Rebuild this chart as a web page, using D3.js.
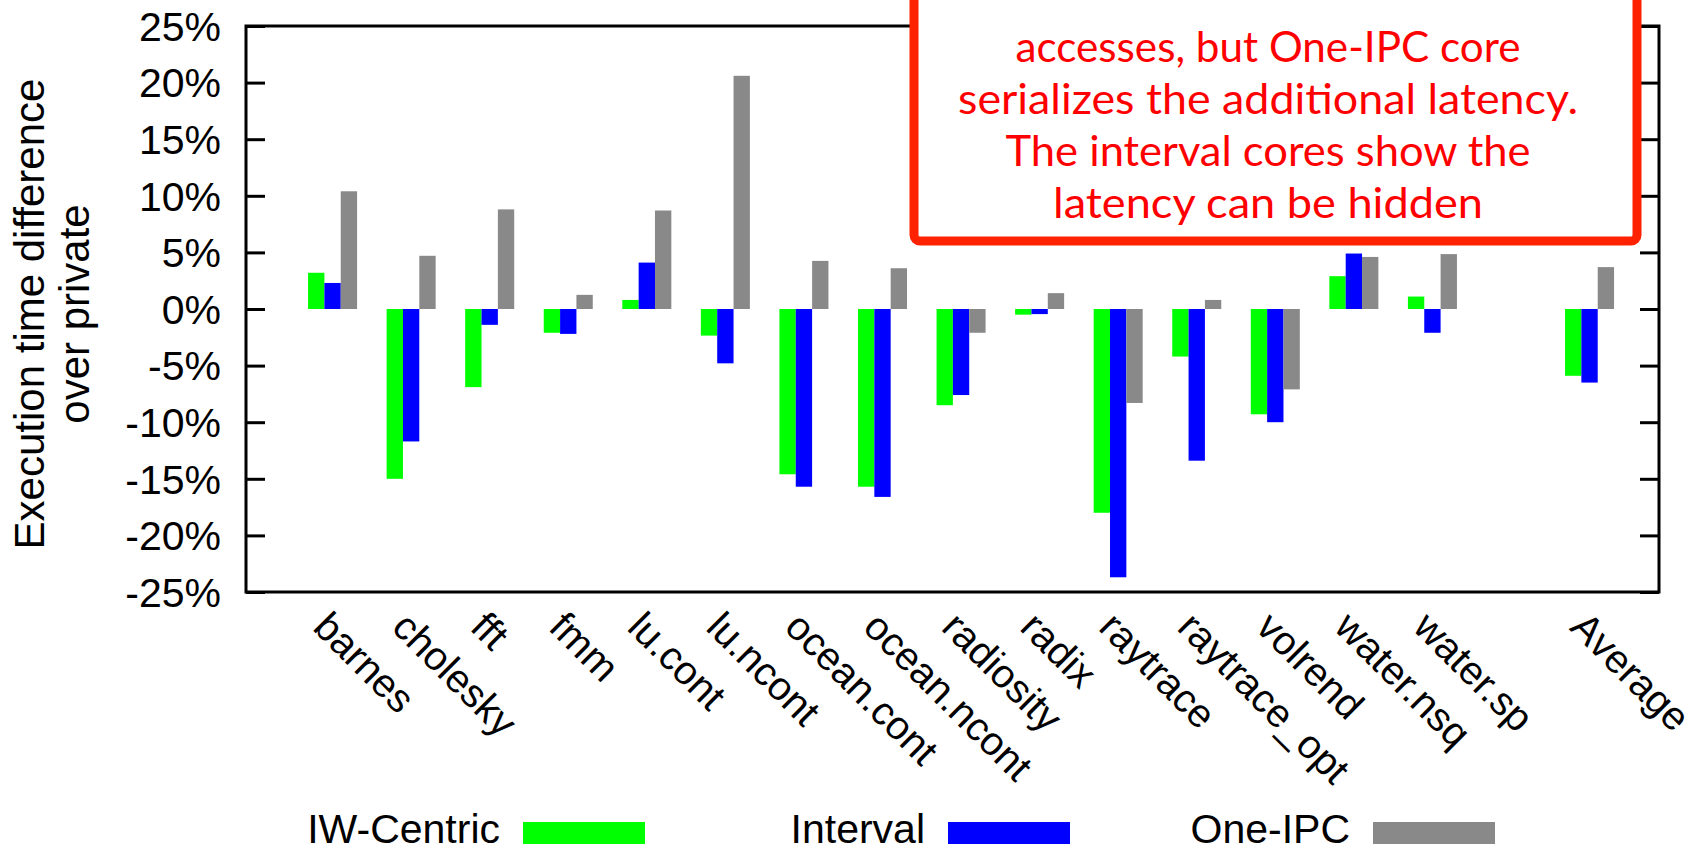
<!DOCTYPE html>
<html>
  <head>
    <title>Execution time difference over private</title>
    <style>
      body { margin: 0; background: #fff; }
      text { font-family: 'Liberation Sans', Arial, sans-serif; fill: #000; }
    </style>
  </head>
  <body>
    <script src="https://cdnjs.cloudflare.com/ajax/libs/d3/7.8.5/d3.min.js"></script>
    <script>
      // benchmarks ('' is the empty slot before Average)
      let categories = ['barnes', 'cholesky', 'fft', 'fmm', 'lu.cont', 'lu.ncont', 'ocean.cont',
                        'ocean.ncont', 'radiosity', 'radix', 'raytrace', 'raytrace_opt', 'volrend',
                        'water.nsq', 'water.sp', '', 'Average'];

      let seriesNames = ['IW-Centric', 'Interval', 'One-IPC'];
      let seriesColors = ['#00ff00', '#0000ff', '#898989'];

      // percent
      let iwCentric = [3.2, -15.0, -6.9, -2.1, 0.8, -2.35, -14.6, -15.7, -8.5, -0.5, -18.0, -4.2, -9.3, 2.9, 1.1, null, -5.9];
      let interval  = [2.3, -11.7, -1.4, -2.2, 4.1, -4.8, -15.7, -16.6, -7.6, -0.45, -23.7, -13.4, -10.0, 4.9, -2.1, null, -6.5];
      let oneIpc    = [10.4, 4.7, 8.8, 1.25, 8.7, 20.6, 4.25, 3.6, -2.1, 1.4, -8.3, 0.8, -7.1, 4.6, 4.85, null, 3.7];

      let yTicks = [-25, -20, -15, -10, -5, 0, 5, 10, 15, 20, 25];

      let noteLines = ['accesses, but One-IPC core',
                       'serializes the additional latency.',
                       'The interval cores show the',
                       'latency can be hidden'];

      let values = [iwCentric, interval, oneIpc];

      let W = 1707, H = 854;
      let plotLeft = 246, plotRight = 1659, plotTop = 26, plotBottom = 592;

      let svg = d3.select('body')
                  .append('svg')
                  .attr('width', W)
                  .attr('height', H);

      let xScale = d3.scaleBand()
                     .domain(categories)
                     .range([plotLeft, plotRight])
                     .paddingInner(0.376)
                     .paddingOuter(0.681)
                     .align(0.58);

      let xInner = d3.scaleBand()
                     .domain(seriesNames)
                     .range([0, xScale.bandwidth()]);

      let yScale = d3.scaleLinear()
                     .domain([-25, 25])
                     .range([plotBottom, plotTop]);

      // bars
      seriesNames.forEach((name, s) => {
        svg.append('g')
           .selectAll('rect')
           .data(categories.map((c, i) => ({ c: c, v: values[s][i] })).filter(d => d.v !== null))
           .enter()
             .append('rect')
             .attr('x', d => xScale(d.c) + xInner(name))
             .attr('width', xInner.bandwidth())
             .attr('y', d => yScale(Math.max(0, d.v)))
             .attr('height', d => Math.abs(yScale(d.v) - yScale(0)))
             .attr('fill', seriesColors[s]);
      });

      // frame
      svg.append('rect')
         .attr('x', plotLeft)
         .attr('y', plotTop)
         .attr('width', plotRight - plotLeft)
         .attr('height', plotBottom - plotTop)
         .attr('fill', 'none')
         .attr('stroke', '#000')
         .attr('stroke-width', 3);

      // left axis, ticks pointing in
      let yAxisLeft = d3.axisRight(yScale)
                        .tickValues(yTicks)
                        .tickSize(19)
                        .tickFormat('');
      svg.append('g')
         .attr('transform', `translate(${plotLeft},0)`)
         .call(yAxisLeft)
         .call(g => g.select('.domain').remove())
         .selectAll('line').attr('stroke-width', 3);

      let yAxisRight = d3.axisLeft(yScale)
                         .tickValues(yTicks)
                         .tickSize(19)
                         .tickFormat('');
      svg.append('g')
         .attr('transform', `translate(${plotRight},0)`)
         .call(yAxisRight)
         .call(g => g.select('.domain').remove())
         .selectAll('line').attr('stroke-width', 3);

      // tick labels
      svg.append('g')
         .selectAll('text')
         .data(yTicks)
         .enter()
           .append('text')
           .attr('x', 221)
           .attr('y', d => yScale(d))
           .attr('dy', '0.36em')
           .attr('text-anchor', 'end')
           .attr('font-size', 41)
           .text(d => d + '%');

      svg.append('g')
         .selectAll('text')
         .data(categories.filter(c => c !== ''))
         .enter()
           .append('text')
           .attr('transform', d => `translate(${xScale(d) + xScale.bandwidth() / 2 - 21},629) rotate(45)`)
           .attr('font-size', 40)
           .text(d => d);

      // y title
      let yTitle = svg.append('text')
                      .attr('transform', 'translate(0,314) rotate(-90)')
                      .attr('text-anchor', 'middle')
                      .attr('font-size', 42);
      yTitle.append('tspan').attr('x', 0).attr('y', 44).text('Execution time difference');
      yTitle.append('tspan').attr('x', 0).attr('y', 89).text('over private');

      // legend
      let legend = svg.append('g')
                      .selectAll('g')
                      .data(seriesNames)
                      .enter()
                        .append('g')
                        .attr('transform', (d, i) => `translate(${523 + i * 425},0)`);
      legend.append('text')
            .attr('x', -23)
            .attr('y', 843)
            .attr('text-anchor', 'end')
            .attr('font-size', 41)
            .text(d => d);
      legend.append('rect')
            .attr('x', 0)
            .attr('y', 822)
            .attr('width', 122)
            .attr('height', 22)
            .attr('fill', (d, i) => seriesColors[i]);

      // red note box over the top of the chart
      svg.append('rect')
         .attr('x', 914)
         .attr('y', -30)
         .attr('width', 723)
         .attr('height', 271)
         .attr('rx', 6)
         .attr('fill', '#fff')
         .attr('stroke', '#ff2200')
         .attr('stroke-width', 9);

      let noteWidths = [505, 620, 525, 430];
      svg.append('g')
         .selectAll('text')
         .data(noteLines)
         .enter()
           .append('text')
           .attr('x', 1268)
           .attr('y', (d, i) => 62 + i * 52)
           .attr('text-anchor', 'middle')
           .attr('font-size', 43)
           .style('font-family', 'Lato, sans-serif')
           .style('fill', '#ff0000')
           .attr('textLength', (d, i) => noteWidths[i])
           .attr('lengthAdjust', 'spacingAndGlyphs')
           .text(d => d);
    </script>
  </body>
</html>
